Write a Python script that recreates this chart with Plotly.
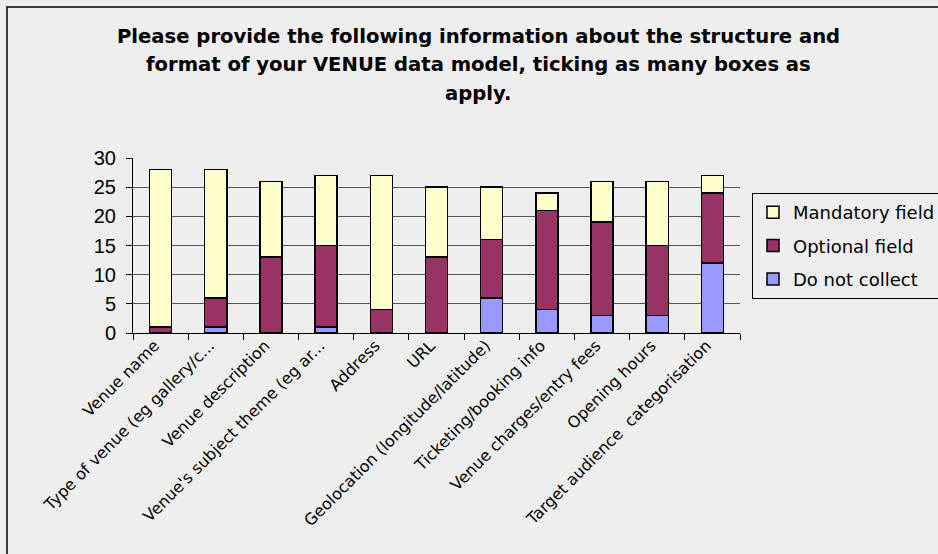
import plotly.graph_objects as go

categories = [
    "Venue name",
    "Type of venue (eg gallery/c...",
    "Venue description",
    "Venue's subject theme (eg ar...",
    "Address",
    "URL",
    "Geolocation (longitude/latitude)",
    "Ticketing/booking info",
    "Venue charges/entry fees",
    "Opening hours",
    "Target audience  categorisation",
]
do_not_collect = [0, 1, 0, 1, 0, 0, 6, 4, 3, 3, 12]
optional_field = [1, 5, 13, 14, 4, 13, 10, 17, 16, 12, 12]
mandatory_field = [27, 22, 13, 12, 23, 12, 9, 3, 7, 11, 3]
y_ticks = [0, 5, 10, 15, 20, 25, 30]

title_lines = [
    "Please provide the following information about the structure and",
    "format of your VENUE data model, ticking as many boxes as",
    "apply.",
]

BG = "#EEEEEE"
W, H = 938, 554
L, R, T, B = 133, 740, 158, 333

fig = go.Figure()
line = dict(color="black", width=1.5)
fig.add_trace(go.Bar(name="Do not collect", x=categories, y=do_not_collect,
                     legendgroup="c", legendrank=3,
                     marker=dict(color="#9999FF", line=line)))
fig.add_trace(go.Bar(name="Optional field", x=categories, y=optional_field,
                     legendgroup="b", legendrank=2,
                     marker=dict(color="#993366", line=line)))
fig.add_trace(go.Bar(name="Mandatory field", x=categories, y=mandatory_field,
                     legendgroup="a", legendrank=1,
                     marker=dict(color="#FFFFCC", line=line)))

pw = R - L
ph = B - T


def px_x(x):
    return (x - L) / pw


def px_y(y):
    return (B - y) / ph


title_y = [37, 64, 93]
annotations = [
    dict(text="<b>" + t + "</b>", xref="paper", yref="paper",
         x=px_x(478), y=px_y(yy), xanchor="center", yanchor="middle",
         showarrow=False, font=dict(size=19.6, family="DejaVu Sans"))
    for t, yy in zip(title_lines, title_y)
]

fig.update_layout(
    width=W, height=H,
    barmode="stack", bargap=0.6,
    paper_bgcolor=BG, plot_bgcolor=BG,
    margin=dict(l=L, r=W - R, t=T, b=H - B, pad=0, autoexpand=False),
    font=dict(family="Arial, Liberation Sans, sans-serif", color="black"),
    showlegend=True,
    legend=dict(
        traceorder="grouped", tracegroupgap=7, itemwidth=30,
        x=px_x(752), y=px_y(193), xanchor="left", yanchor="top",
        bgcolor=BG, bordercolor="black", borderwidth=1,
        font=dict(size=18, family="DejaVu Sans"),
    ),
    xaxis=dict(
        type="category", tickangle=-45,
        tickfont=dict(size=16, family="DejaVu Sans"),
        showline=True, linecolor="black", linewidth=1,
        ticks="outside", tickson="boundaries", ticklen=6, tickcolor="black",
        showgrid=False, ticklabelstandoff=-4, ticklabelshift=-6,
    ),
    yaxis=dict(
        range=[0, 30], tickvals=y_ticks, tickfont=dict(size=20),
        showline=True, linecolor="black", linewidth=1,
        ticks="outside", ticklen=6, tickcolor="black",
        showgrid=True, gridcolor="#555555", gridwidth=1,
        zeroline=False, ticklabelstandoff=6,
    ),
    annotations=annotations,
    shapes=[dict(
        type="rect", xref="paper", yref="paper",
        x0=px_x(7), x1=px_x(1200), y0=px_y(900), y1=px_y(7),
        line=dict(color="black", width=1.5), fillcolor="rgba(0,0,0,0)",
        layer="below",
    )],
)

fig.write_html("out.html", config={"displayModeBar": False},
               post_script="document.body.style.margin='0';document.body.style.background='#EEEEEE';")
